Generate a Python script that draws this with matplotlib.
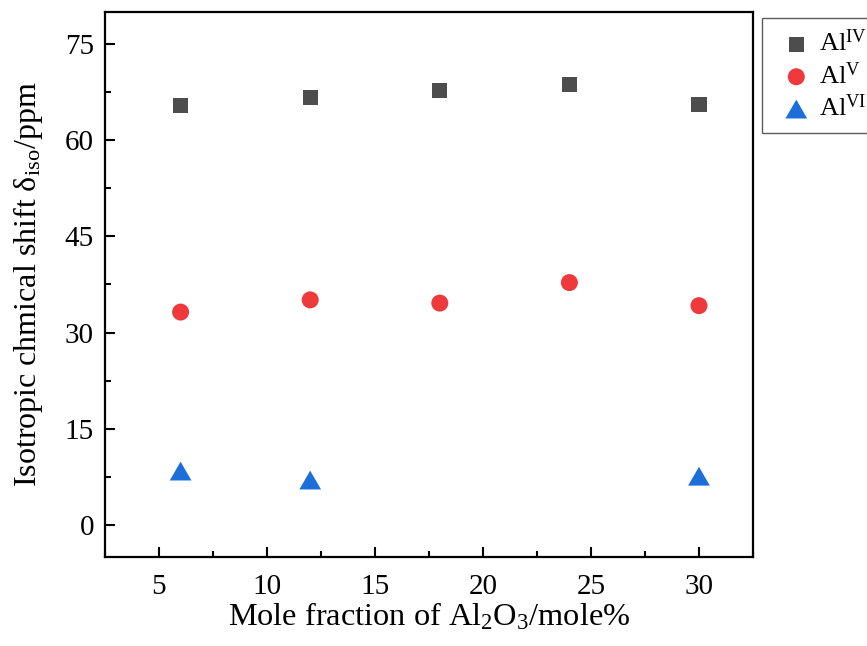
import matplotlib
matplotlib.use("Agg")
import matplotlib.pyplot as plt
from matplotlib.ticker import MultipleLocator

# Al coordination chemical shifts vs. Al2O3 content
x_all = [6, 12, 18, 24, 30]
al_iv = [65.4, 66.6, 67.8, 68.7, 65.6]
al_v = [33.2, 35.1, 34.6, 37.8, 34.2]
x_vi = [6, 12, 30]
al_vi = [8.4, 7.0, 7.6]

plt.rcParams["font.family"] = ["Liberation Serif", "DejaVu Serif"]
plt.rcParams["mathtext.fontset"] = "custom"
plt.rcParams["mathtext.rm"] = "Liberation Serif"
plt.rcParams["mathtext.it"] = "Liberation Serif:italic"

# equilateral triangle, wider than matplotlib's "^"
tri = [(-1, -0.866), (1, -0.866), (0, 0.866), (-1, -0.866)]

fig = plt.figure(figsize=(8.67, 6.46), dpi=100)
ax = fig.add_axes([0.1211, 0.1378, 0.7474, 0.8436])

ax.scatter(x_all, al_iv, marker="s", s=117, color="#4d4d4d", edgecolors="none",
           label=r"Al$^{\mathrm{IV}}$", zorder=3)
ax.scatter(x_all, al_v, marker="o", s=150, color="#ee3a3c", edgecolors="none",
           label=r"Al$^{\mathrm{V}}$", zorder=3)
ax.scatter(x_vi, al_vi, marker=tri, s=245, color="#1c6fd8", edgecolors="none",
           label=r"Al$^{\mathrm{VI}}$", zorder=3)

ax.set_xlim(2.5, 32.5)
ax.set_ylim(-5, 80)
ax.xaxis.set_major_locator(MultipleLocator(5))
ax.xaxis.set_minor_locator(MultipleLocator(2.5))
ax.yaxis.set_major_locator(MultipleLocator(15))
ax.yaxis.set_minor_locator(MultipleLocator(7.5))
ax.tick_params(which="both", direction="in", top=False, right=False, width=1.5)
ax.tick_params(which="major", length=7.5, labelsize=21)
ax.tick_params(axis="x", which="major", pad=12)
ax.tick_params(axis="y", which="major", pad=8)
ax.tick_params(which="minor", length=4)
for spine in ax.spines.values():
    spine.set_linewidth(1.6)

ax.set_xlabel(r"Mole fraction of Al$_2$O$_3$/mole%", fontsize=23.3, labelpad=1)
ax.set_ylabel(r"Isotropic chmical shift δ$_{\mathrm{iso}}$/ppm", fontsize=23, labelpad=14)

leg = fig.legend(loc="upper left", bbox_to_anchor=(762 / 867, 1 - 18 / 646),
                 borderaxespad=0, fontsize=19, frameon=True, fancybox=False,
                 edgecolor="#333333", handletextpad=0.0, borderpad=0.45,
                 labelspacing=0.22, handlelength=1.7, markerscale=1)
leg.get_frame().set_linewidth(1.0)

fig.savefig("out.png", dpi=100)
